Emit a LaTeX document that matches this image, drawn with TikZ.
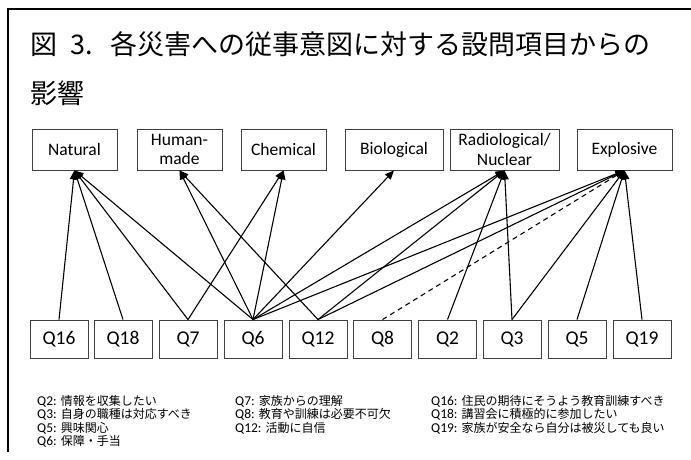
\documentclass[tikz,border=0pt]{standalone}
\usepackage{fontspec}
\setmainfont{Carlito}
\newfontfamily\jp{Noto Sans CJK JP}
\usetikzlibrary{arrows.meta}
\begin{document}
\begin{tikzpicture}[x=1pt,y=-1pt,
  qbox/.style={draw=black!75, line width=0.9pt, minimum height=38pt, minimum width=58pt, inner sep=0pt, font=\fontsize{19.5}{21}\selectfont},
  hbox/.style={draw=black!75, line width=0.9pt, minimum height=41pt, inner sep=0pt, align=center, font=\fontsize{17.5}{19.5}\selectfont},
  link/.style={line width=1.1pt, -{Triangle[length=9pt,width=7.5pt]}},
  legend/.style={anchor=west, inner sep=0pt, font=\fontsize{13.5}{14}\selectfont},
  ljp/.style={},
  ttl/.style={anchor=west, inner sep=0pt, font=\jp\fontsize{27}{27}\selectfont}]
\useasboundingbox (0,0) rectangle (691,459);
\fill[white] (0,0) rectangle (691,459);
\draw[line width=1.2pt] (8,452) -- (8,9) -- (691,9);
% title
\node[ttl] (title1) at (30,44) {\makebox[40pt][l]{図}\makebox[40pt][l]{3.}各災害への従事意図に対する設問項目からの};
\node[ttl] (title2) at (30,93) {影響};
% hazard boxes
\node[hbox, minimum width=85pt] (nat) at (74.5,149.5) {Natural};
\node[hbox, minimum width=85pt] (hum) at (179.5,149.5) {Human-\\made};
\node[hbox, minimum width=85pt] (che) at (283.5,149.5) {Chemical};
\node[hbox, minimum width=98pt] (bio) at (394,149.5) {Biological};
\node[hbox, minimum width=109pt] (rad) at (504.5,149.5) {Radiological/\\Nuclear};
\node[hbox, minimum width=95pt] (exp) at (624.5,149.5) {Explosive};
% question boxes
\node[qbox] (q16) at (59,339) {Q16};
\node[qbox] (q18) at (123,339) {Q18};
\node[qbox] (q7) at (188,339) {Q7};
\node[qbox] (q6) at (253,339) {Q6};
\node[qbox] (q12) at (318,339) {Q12};
\node[qbox] (q8) at (382.5,339) {Q8};
\node[qbox] (q2) at (447.5,339) {Q2};
\node[qbox] (q3) at (512,339) {Q3};
\node[qbox] (q5) at (577,339) {Q5};
\node[qbox] (q19) at (642,339) {Q19};
% links
\foreach \q in {q16,q18,q7,q6} \draw[link] (\q.north) -- (nat.south);
\foreach \q in {q6,q12} \draw[link] (\q.north) -- (hum.south);
\foreach \q in {q7,q6} \draw[link] (\q.north) -- (che.south);
\draw[link] (q6.north) -- (bio.south);
\foreach \q in {q6,q12,q2,q3} \draw[link] (\q.north) -- (rad.south);
\foreach \q in {q6,q12,q3,q5,q19} \draw[link] (\q.north) -- (exp.south);
\draw[link, dash pattern=on 5pt off 4pt] (q8.north) -- (exp.south);
% legend
\node[legend] (l2) at (37,401) {Q2: {\jp\fontsize{12}{14}\selectfont 情報を収集したい}};
\node[legend] (l3) at (37,414.5) {Q3: {\jp\fontsize{12}{14}\selectfont 自身の職種は対応すべき}};
\node[legend] (l5) at (37,428) {Q5: {\jp\fontsize{12}{14}\selectfont 興味関心}};
\node[legend] (l6) at (37,441.5) {Q6: {\jp\fontsize{12}{14}\selectfont 保障・手当}};
\node[legend] (l7) at (235,401) {Q7: {\jp\fontsize{12}{14}\selectfont 家族からの理解}};
\node[legend] (l8) at (235,414.5) {Q8: {\jp\fontsize{12}{14}\selectfont 教育や訓練は必要不可欠}};
\node[legend] (l12) at (235,428) {Q12: {\jp\fontsize{12}{14}\selectfont 活動に自信}};
\node[legend] (l16) at (431,401) {Q16: {\jp\fontsize{12}{14}\selectfont 住民の期待にそうよう教育訓練すべき}};
\node[legend] (l18) at (431,414.5) {Q18: {\jp\fontsize{12}{14}\selectfont 講習会に積極的に参加したい}};
\node[legend] (l19) at (431,428) {Q19: {\jp\fontsize{12}{14}\selectfont 家族が安全なら自分は被災しても良い}};
\end{tikzpicture}
\end{document}
